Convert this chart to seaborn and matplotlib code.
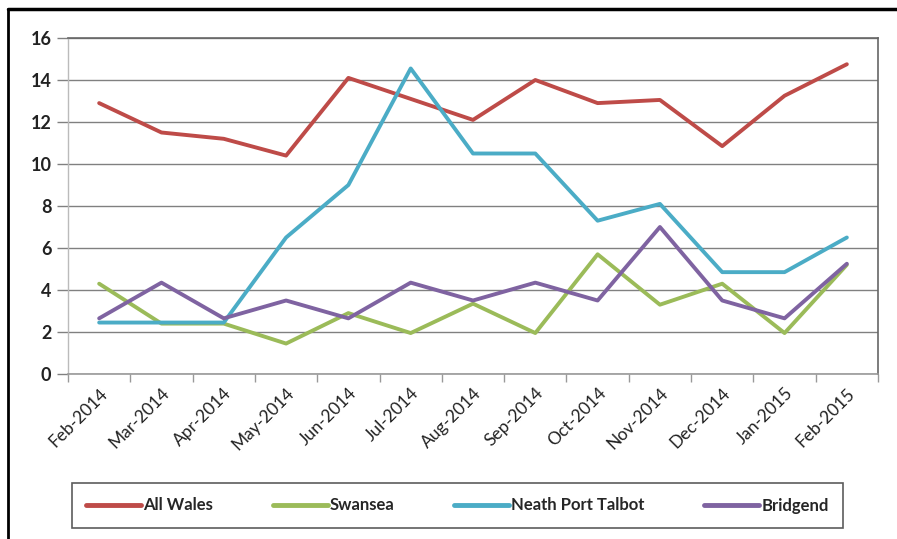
import matplotlib
matplotlib.use("Agg")
import matplotlib.pyplot as plt
import seaborn as sns
import pandas as pd
from matplotlib.lines import Line2D
from matplotlib.ticker import FixedLocator

months = ["Feb-2014", "Mar-2014", "Apr-2014", "May-2014", "Jun-2014", "Jul-2014",
          "Aug-2014", "Sep-2014", "Oct-2014", "Nov-2014", "Dec-2014", "Jan-2015", "Feb-2015"]
all_wales = [12.9, 11.5, 11.2, 10.4, 14.1, 13.1, 12.1, 14.0, 12.9, 13.05, 10.85, 13.25, 14.75]
swansea = [4.3, 2.4, 2.4, 1.45, 2.9, 1.95, 3.35, 1.95, 5.7, 3.3, 4.3, 1.95, 5.2]
neath = [2.45, 2.45, 2.45, 6.5, 9.0, 14.55, 10.5, 10.5, 7.3, 8.1, 4.85, 4.85, 6.5]
bridgend = [2.65, 4.35, 2.65, 3.5, 2.65, 4.35, 3.5, 4.35, 3.5, 7.0, 3.5, 2.65, 5.25]
series_names = ["All Wales", "Swansea", "Neath Port Talbot", "Bridgend"]
colors = ["#BE4B48", "#9BBB59", "#4BACC6", "#7F63A1"]
yticks = [0, 2, 4, 6, 8, 10, 12, 14, 16]

rows = []
for name, vals in zip(series_names, [all_wales, swansea, neath, bridgend]):
    for m, v in zip(months, vals):
        rows.append({"Month": m, "Value": v, "Series": name})
df = pd.DataFrame(rows)

sns.set_style("white")
plt.rcParams["font.family"] = ["Lato", "DejaVu Sans"]

fig = plt.figure(figsize=(8.97, 5.39), dpi=100)
ax = fig.add_axes([68 / 897, 1 - 374 / 539, (878 - 68) / 897, (374 - 38) / 539])

sns.lineplot(data=df, x="Month", y="Value", hue="Series", hue_order=series_names,
             palette=colors, sort=False, linewidth=2.8, ax=ax, legend=False)

ax.set_xlim(-0.5, len(months) - 0.5)
ax.set_ylim(0, 16)
ax.set_yticks(yticks)
ax.set_yticklabels([str(t) for t in yticks], fontsize=13, fontweight="bold", color="#222222")
ax.yaxis.grid(True, color="#808080", linewidth=1.0)
ax.set_axisbelow(True)
ax.set_xlabel("")
ax.set_ylabel("")

ax.set_xticks(range(len(months)))
ax.set_xticklabels(months, rotation=45, ha="right", rotation_mode="anchor",
                   fontsize=12.5, color="#222222")
ax.xaxis.set_minor_locator(FixedLocator([i - 0.5 for i in range(len(months) + 1)]))
ax.tick_params(axis="x", which="major", length=0, pad=8)
ax.tick_params(axis="x", which="minor", length=6, color="#999999", width=1, bottom=True)
ax.tick_params(axis="y", which="major", length=8, color="#808080", width=1, left=True, pad=4)

for s in ["top", "right"]:
    ax.spines[s].set_color("#666666")
    ax.spines[s].set_linewidth(1.2)
ax.spines["left"].set_color("#BBBBBB")
ax.spines["bottom"].set_color("#999999")
ax.spines["left"].set_linewidth(1.0)
ax.spines["bottom"].set_linewidth(1.2)

handles = [Line2D([0], [0], color=c, linewidth=3.5) for c in colors]
leg = fig.legend(handles, series_names, loc="center",
                 bbox_to_anchor=((70 + 845) / 2 / 897, 1 - 505.5 / 539),
                 ncol=4, frameon=True, fancybox=False, handlelength=3.3,
                 handletextpad=0.1, columnspacing=3.6, borderpad=0.85, borderaxespad=0,
                 prop={"size": 12, "weight": "bold"})
leg.get_frame().set_edgecolor("#333333")
leg.get_frame().set_linewidth(1.2)

# outer chart frame (top and left edges visible)
fig.add_artist(Line2D([8 / 897, 1], [1 - 9 / 539, 1 - 9 / 539], transform=fig.transFigure,
                      color="black", linewidth=2.5))
fig.add_artist(Line2D([8 / 897, 8 / 897], [0, 1 - 9 / 539], transform=fig.transFigure,
                      color="black", linewidth=2.0))

fig.savefig("out.png", dpi=100)
